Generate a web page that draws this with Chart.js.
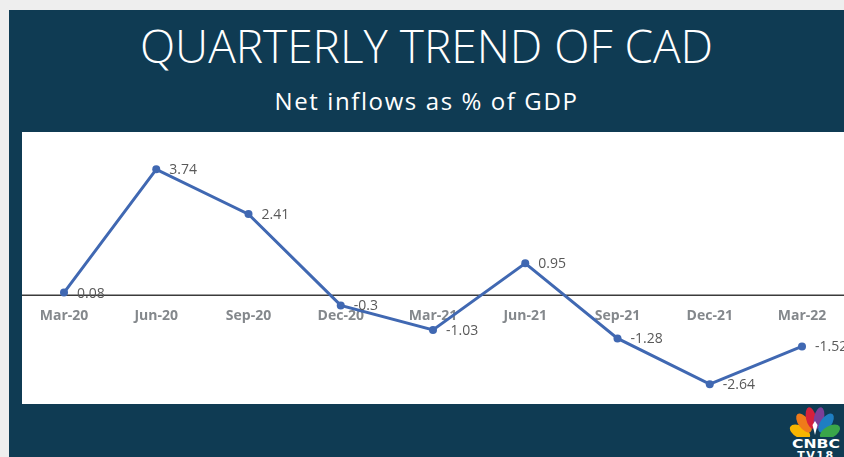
<!DOCTYPE html>
<html>
<head>
<meta charset="utf-8">
<title>Quarterly trend of CAD</title>
<script src="https://cdn.jsdelivr.net/npm/chart.js@4"></script>
<style>
  html, body { margin: 0; padding: 0; }
  body { width: 844px; height: 457px; background: #eeeeee; position: relative; overflow: hidden; }
  #panel { position: absolute; left: 9px; top: 10px; width: 835px; height: 447px; background: #0f3b53; }
  #title { position: absolute; left: 9px; width: 835px; top: 14px; margin: 0; text-align: center;
    color: #ffffff; font: 300 46px "Open Sans", sans-serif; line-height: normal; }
  #subtitle { position: absolute; left: 9px; width: 835px; top: 84px; margin: 0; text-align: center;
    color: #ffffff; font: 400 24px "Open Sans", sans-serif; letter-spacing: 1.6px; line-height: normal; }
  #chart { position: absolute; left: 22px; top: 132px; background: #ffffff; }
  #logo { position: absolute; left: 788px; top: 406px; }
</style>
</head>
<body>
<div id="panel"></div>
<h1 id="title">QUARTERLY TREND OF CAD</h1>
<div id="subtitle">Net inflows as % of GDP</div>
<canvas id="chart" width="822" height="272"></canvas>
<svg id="logo" width="56" height="51" viewBox="0 0 56 51">
  <g transform="translate(27,31)">
    <ellipse cx="-15" cy="-5" rx="6" ry="11" fill="#f7b500" transform="rotate(-62 -15 -5)"/>
    <ellipse cx="-11" cy="-14" rx="5.5" ry="11" fill="#ef7a1a" transform="rotate(-36 -11 -14)"/>
    <ellipse cx="-4" cy="-19" rx="5" ry="11" fill="#d6203b" transform="rotate(-12 -4 -19)"/>
    <ellipse cx="4" cy="-19" rx="5" ry="11" fill="#7b3f98" transform="rotate(12 4 -19)"/>
    <ellipse cx="11" cy="-14" rx="5.5" ry="11" fill="#1e7ec2" transform="rotate(36 11 -14)"/>
    <ellipse cx="15" cy="-5" rx="6" ry="11" fill="#3aa64a" transform="rotate(62 15 -5)"/>
    <rect x="-24" y="0" width="48" height="8" fill="#0f3b53"/>
    <path d="M0 -2 L-2.5 -12 L0 -16 L2.5 -12 Z" fill="#ffffff"/>
  </g>
  <text x="28" y="42" text-anchor="middle" fill="#ffffff" font-family="DejaVu Sans" font-weight="bold" font-size="13" textLength="48" lengthAdjust="spacingAndGlyphs">CNBC</text>
  <text x="28" y="53" text-anchor="middle" fill="#ffffff" font-family="DejaVu Sans" font-weight="bold" font-size="11" letter-spacing="1.5">TV18</text>
</svg>
<script>
const quarters = ["Mar-20", "Jun-20", "Sep-20", "Dec-20", "Mar-21", "Jun-21", "Sep-21", "Dec-21", "Mar-22"];
const netInflows = [0.08, 3.74, 2.41, -0.3, -1.03, 0.95, -1.28, -2.64, -1.52];

const lineBlue = "#4068b2";

// zero line across the whole white area, drawn before the series
const zeroLine = {
  id: "zeroLine",
  beforeDatasetsDraw(chart) {
    const { ctx, width } = chart;
    const y = chart.scales.y.getPixelForValue(0);
    ctx.save();
    ctx.strokeStyle = "#3b3b3b";
    ctx.lineWidth = 1.5;
    ctx.beginPath();
    ctx.moveTo(0, y);
    ctx.lineTo(width, y);
    ctx.stroke();
    ctx.restore();
  },
};

// value labels to the right of each point
const valueLabels = {
  id: "valueLabels",
  afterDatasetsDraw(chart) {
    const { ctx } = chart;
    const meta = chart.getDatasetMeta(0);
    const values = chart.data.datasets[0].data;
    ctx.save();
    ctx.font = "14px 'Open Sans', sans-serif";
    ctx.fillStyle = "#595959";
    ctx.textAlign = "left";
    ctx.textBaseline = "middle";
    meta.data.forEach((pt, i) => {
      ctx.fillText(String(values[i]), pt.x + 13, pt.y + 1);
    });
    ctx.restore();
  },
};

document.addEventListener("DOMContentLoaded", () => {
  const canvas = document.getElementById("chart");
  new Chart(canvas, {
    type: "line",
    data: {
      labels: quarters,
      datasets: [
        {
          data: netInflows,
          borderColor: lineBlue,
          backgroundColor: lineBlue,
          borderWidth: 3,
          pointRadius: 4,
          pointBackgroundColor: lineBlue,
          pointBorderWidth: 0,
          tension: 0,
        },
      ],
    },
    options: {
      responsive: false,
      animation: false,
      layout: { padding: { left: 42, right: 42, top: 0, bottom: 0 } },
      plugins: {
        legend: { display: false },
        tooltip: { enabled: false },
      },
      scales: {
        x: {
          position: { y: 0 },
          offset: false,
          grid: { display: false, drawTicks: false },
          border: { display: false },
          ticks: {
            color: "#84888c",
            font: { family: "'Open Sans', sans-serif", size: 14, weight: "bold" },
            padding: 12,
            maxRotation: 0,
            autoSkip: false,
          },
        },
        y: {
          display: false,
          min: -3.11,
          max: 4.73,
        },
      },
    },
    plugins: [zeroLine, valueLabels],
  });
});
</script>
</body>
</html>
